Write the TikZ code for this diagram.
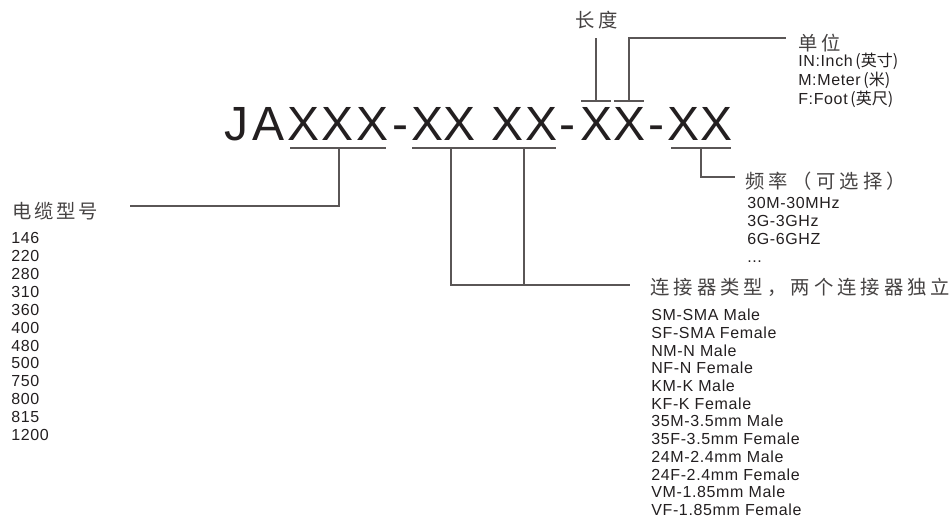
\documentclass[tikz,border=0pt]{standalone}
\usepackage{fontspec}
\setmainfont{Liberation Sans}
\newfontfamily\cjk{Noto Sans CJK SC}
\newfontfamily\lat[LetterSpace=4]{Liberation Sans}
\definecolor{ink}{HTML}{231F20}
\definecolor{cjkink}{HTML}{454242}
\definecolor{rulecol}{HTML}{5A5656}
\newcommand\cjksmall{\cjk\fontsize{12}{12}\selectfont}
\begin{document}
\begin{tikzpicture}[x=0.75pt,y=-0.75pt,
  big/.style={font=\fontsize{36}{36}\selectfont, text=ink, inner sep=0pt, anchor=base},
  cjklabel/.style={font=\cjk\fontsize{14.5}{14.5}\selectfont\addfontfeature{LetterSpace=#1}, text=cjkink, inner sep=0pt, anchor=west},
  cjklabel/.default=15,
  item/.style={font=\lat\fontsize{12}{12}\selectfont, text=ink, inner sep=0pt, anchor=base west},
  bar/.style={draw=rulecol, line width=0.8pt}]
\useasboundingbox (0,0) rectangle (952,523);

% code string
\foreach \ch/\cx [count=\i] in {J/236, A/268.5, X/304, X/337.5, X/372.5, -/400, X/427.5, X/460, X/508, X/541, -/567.5, X/596, X/629, -/656, X/683.5, X/716}
  \node[big] (ch\i) at (\cx,141) {\ch};

% underline bars
\draw[bar] (290,148) -- (386,148);
\draw[bar] (412,148) -- (556,148);
\draw[bar] (581,101) -- (611,101);
\draw[bar] (614,101) -- (644,101);
\draw[bar] (671,148) -- (731,148);

% connector coordinates
\coordinate (u1) at (339,148);
\coordinate (e1) at (130,206);
\coordinate (u2a) at (451,148);
\coordinate (u2b) at (524,148);
\coordinate (j2b) at (524,285);
\coordinate (e2) at (630,285);
\coordinate (u3) at (596,101);
\coordinate (t3) at (596,38);
\coordinate (u4) at (629,101);
\coordinate (e4) at (786,38);
\coordinate (u5) at (701,148);
\coordinate (e5) at (735,177);

\draw[bar] (u1) |- (e1);
\draw[bar] (u2a) |- (e2);
\draw[bar] (u2b) -- (j2b);
\draw[bar] (u3) -- (t3);
\draw[bar] (u4) |- (e4);
\draw[bar] (u5) |- (e5);

% labels
\node[cjklabel=18] (lenlbl) at (575,20.5) {长度};
\node[cjklabel=22] (unitlbl) at (798,43.5) {单位};
\node[cjklabel=14] (cablelbl) at (12,211.5) {电缆型号};
\node[cjklabel=22] (freqlbl) at (745,181) {频率（可选择）};
\node[cjklabel=21] (conlbl) at (650,287.5) {连接器类型，两个连接器独立};

% unit list
\node[item] (un1) at (798,67) {IN:Inch{\cjksmall\,(英寸)}};
\node[item] (un2) at (798,86) {M:Meter{\cjksmall\,(米)}};
\node[item] (un3) at (798,104.5) {F:Foot{\cjksmall\,(英尺)}};

% frequency list
\node[item] (fq0) at (747,208.7) {30M-30MHz};
\node[item] (fq1) at (747,226.7) {3G-3GHz};
\node[item] (fq2) at (747,244.7) {6G-6GHZ};
\node[item] (fq3) at (747,262.7) {...};

% cable list
\foreach \t [count=\i from 0] in {146,220,280,310,360,400,480,500,750,800,815,1200}
  \node[item] (cab\i) at (11, 243.7+17.9*\i) {\t};

% connector list
\foreach \t [count=\i from 0] in {SM-SMA Male, SF-SMA Female, NM-N Male, NF-N Female, KM-K Male, KF-K Female, 35M-3.5mm Male, 35F-3.5mm Female, 24M-2.4mm Male, 24F-2.4mm Female, VM-1.85mm Male, VF-1.85mm Female}
  \node[item] (con\i) at (651, 320.7+17.7*\i) {\t};
\end{tikzpicture}
\end{document}
